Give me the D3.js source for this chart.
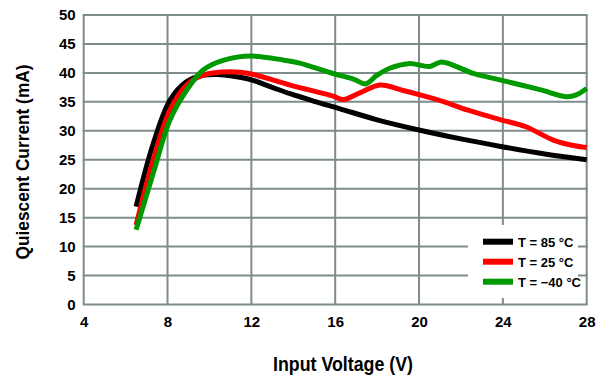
<!DOCTYPE html>
<html>
<head>
<meta charset="utf-8">
<script src="https://cdn.jsdelivr.net/npm/d3@7"></script>
<style>
  body { margin: 0; background: #fff; }
  svg text { font-family: "Liberation Sans Narrow", "Arial Narrow", "Liberation Sans", sans-serif; font-weight: bold; }
</style>
</head>
<body>
<svg id="chart" width="603" height="376"></svg>
<script>
// values
const xTicks = [4, 8, 12, 16, 20, 24, 28]
const yTicks = [0, 5, 10, 15, 20, 25, 30, 35, 40, 45, 50]

const v85 = [6.5, 7.32, 8.12, 8.91, 9.7, 10.5, 11.0, 12.0, 13.0, 13.85, 15.0, 16.23, 18.0, 20.05, 22.0, 23.9, 26.0, 28.0]
const i85 = [16.9, 27.8, 35.3, 38.5, 39.6, 39.7, 39.5, 38.8, 37.5, 36.4, 35.1, 33.8, 31.9, 30.1, 28.6, 27.3, 26.0, 25.0]

const v25 = [6.5, 7.32, 8.12, 8.91, 9.7, 10.98, 12.0, 13.85, 15.9, 16.39, 17.2, 18.14, 19.2, 20.05, 21.2, 22.3, 23.9, 25.1, 26.4, 27.3, 28.0]
const i25 = [13.7, 25.0, 33.6, 37.9, 39.6, 40.2, 39.8, 37.9, 36.0, 35.4, 36.6, 37.9, 37.0, 36.2, 35.0, 33.6, 31.9, 30.7, 28.4, 27.5, 27.1]

const vM40 = [6.5, 7.32, 8.12, 8.91, 9.7, 10.69, 12.0, 13.56, 14.3, 15.9, 16.9, 17.45, 18.0, 18.6, 19.5, 20.52, 21.08, 22.59, 23.86, 25.77, 27.05, 27.5, 28.0]
const iM40 = [12.9, 22.7, 31.9, 37.0, 40.5, 42.2, 42.9, 42.2, 41.7, 39.9, 38.9, 38.1, 39.6, 40.8, 41.6, 41.1, 41.9, 39.9, 38.8, 37.1, 35.9, 36.2, 37.3]

const seriesNames = ["T = 85 °C", "T = 25 °C", "T = \u221240 °C"]
const seriesColors = ["#000000", "#ff0000", "#009900"]

const svg = d3.select("#chart")
const gridColor = "#7f8c8c"

const x = d3.scaleLinear().domain([4, 28]).range([83.7, 586.7])
const y = d3.scaleLinear().domain([0, 50]).range([304.5, 15])

// grid
svg.append("g").selectAll("line.v")
    .data(xTicks)
    .join("line")
    .attr("x1", d => x(d)).attr("x2", d => x(d))
    .attr("y1", y(0)).attr("y2", y(50))
    .attr("stroke", gridColor).attr("stroke-width", 2)
svg.append("g").selectAll("line.h")
    .data(yTicks)
    .join("line")
    .attr("x1", x(4) - 1).attr("x2", x(28) + 1)
    .attr("y1", d => y(d)).attr("y2", d => y(d))
    .attr("stroke", gridColor).attr("stroke-width", 2)

// tick labels via axes, domain + ticks hidden
svg.append("g")
    .attr("transform", `translate(0,${y(0)})`)
    .call(d3.axisBottom(x).tickValues(xTicks).tickSize(0).tickPadding(12))
svg.append("g")
    .attr("transform", `translate(${x(4)},0)`)
    .call(d3.axisLeft(y).tickValues(yTicks).tickSize(0).tickPadding(8))
svg.selectAll(".domain").remove()
svg.selectAll(".tick text")
    .attr("fill", "#000")
    .style("font-size", "15px")
    .style("font-family", '"Liberation Sans Narrow", "Arial Narrow", sans-serif')
    .style("font-weight", "bold")

// legend box (white, covers grid)
svg.append("rect")
    .attr("x", 468).attr("y", 225)
    .attr("width", 110).attr("height", 73)
    .attr("fill", "#fff")

// curves
const line = d3.line()
    .x(d => x(d[0])).y(d => y(d[1]))
    .curve(d3.curveCatmullRom.alpha(0.5))

const series = [
    d3.zip(v85, i85),
    d3.zip(v25, i25),
    d3.zip(vM40, iM40)
]
series.forEach((pts, k) => {
    svg.append("path")
        .attr("d", line(pts))
        .attr("fill", "none")
        .attr("stroke", seriesColors[k])
        .attr("stroke-width", 5)
        .attr("stroke-linejoin", "round")
})

// legend entries
seriesNames.forEach((name, k) => {
    let ly = 241.7 + k * 20
    svg.append("line")
        .attr("x1", 483).attr("x2", 513)
        .attr("y1", ly).attr("y2", ly)
        .attr("stroke", seriesColors[k]).attr("stroke-width", 6)
    svg.append("text")
        .attr("x", 518).attr("y", ly + 5)
        .style("font-size", "13px")
        .text(name)
})

// axis titles
svg.append("text")
    .attr("x", 343).attr("y", 371)
    .attr("text-anchor", "middle")
    .style("font-size", "20px")
    .attr("textLength", 140).attr("lengthAdjust", "spacingAndGlyphs")
    .text("Input Voltage (V)")

svg.append("text")
    .attr("transform", "translate(29,162) rotate(-90)")
    .attr("text-anchor", "middle")
    .style("font-size", "19px")
    .attr("textLength", 195).attr("lengthAdjust", "spacingAndGlyphs")
    .text("Quiescent Current (mA)")
</script>
</body>
</html>
